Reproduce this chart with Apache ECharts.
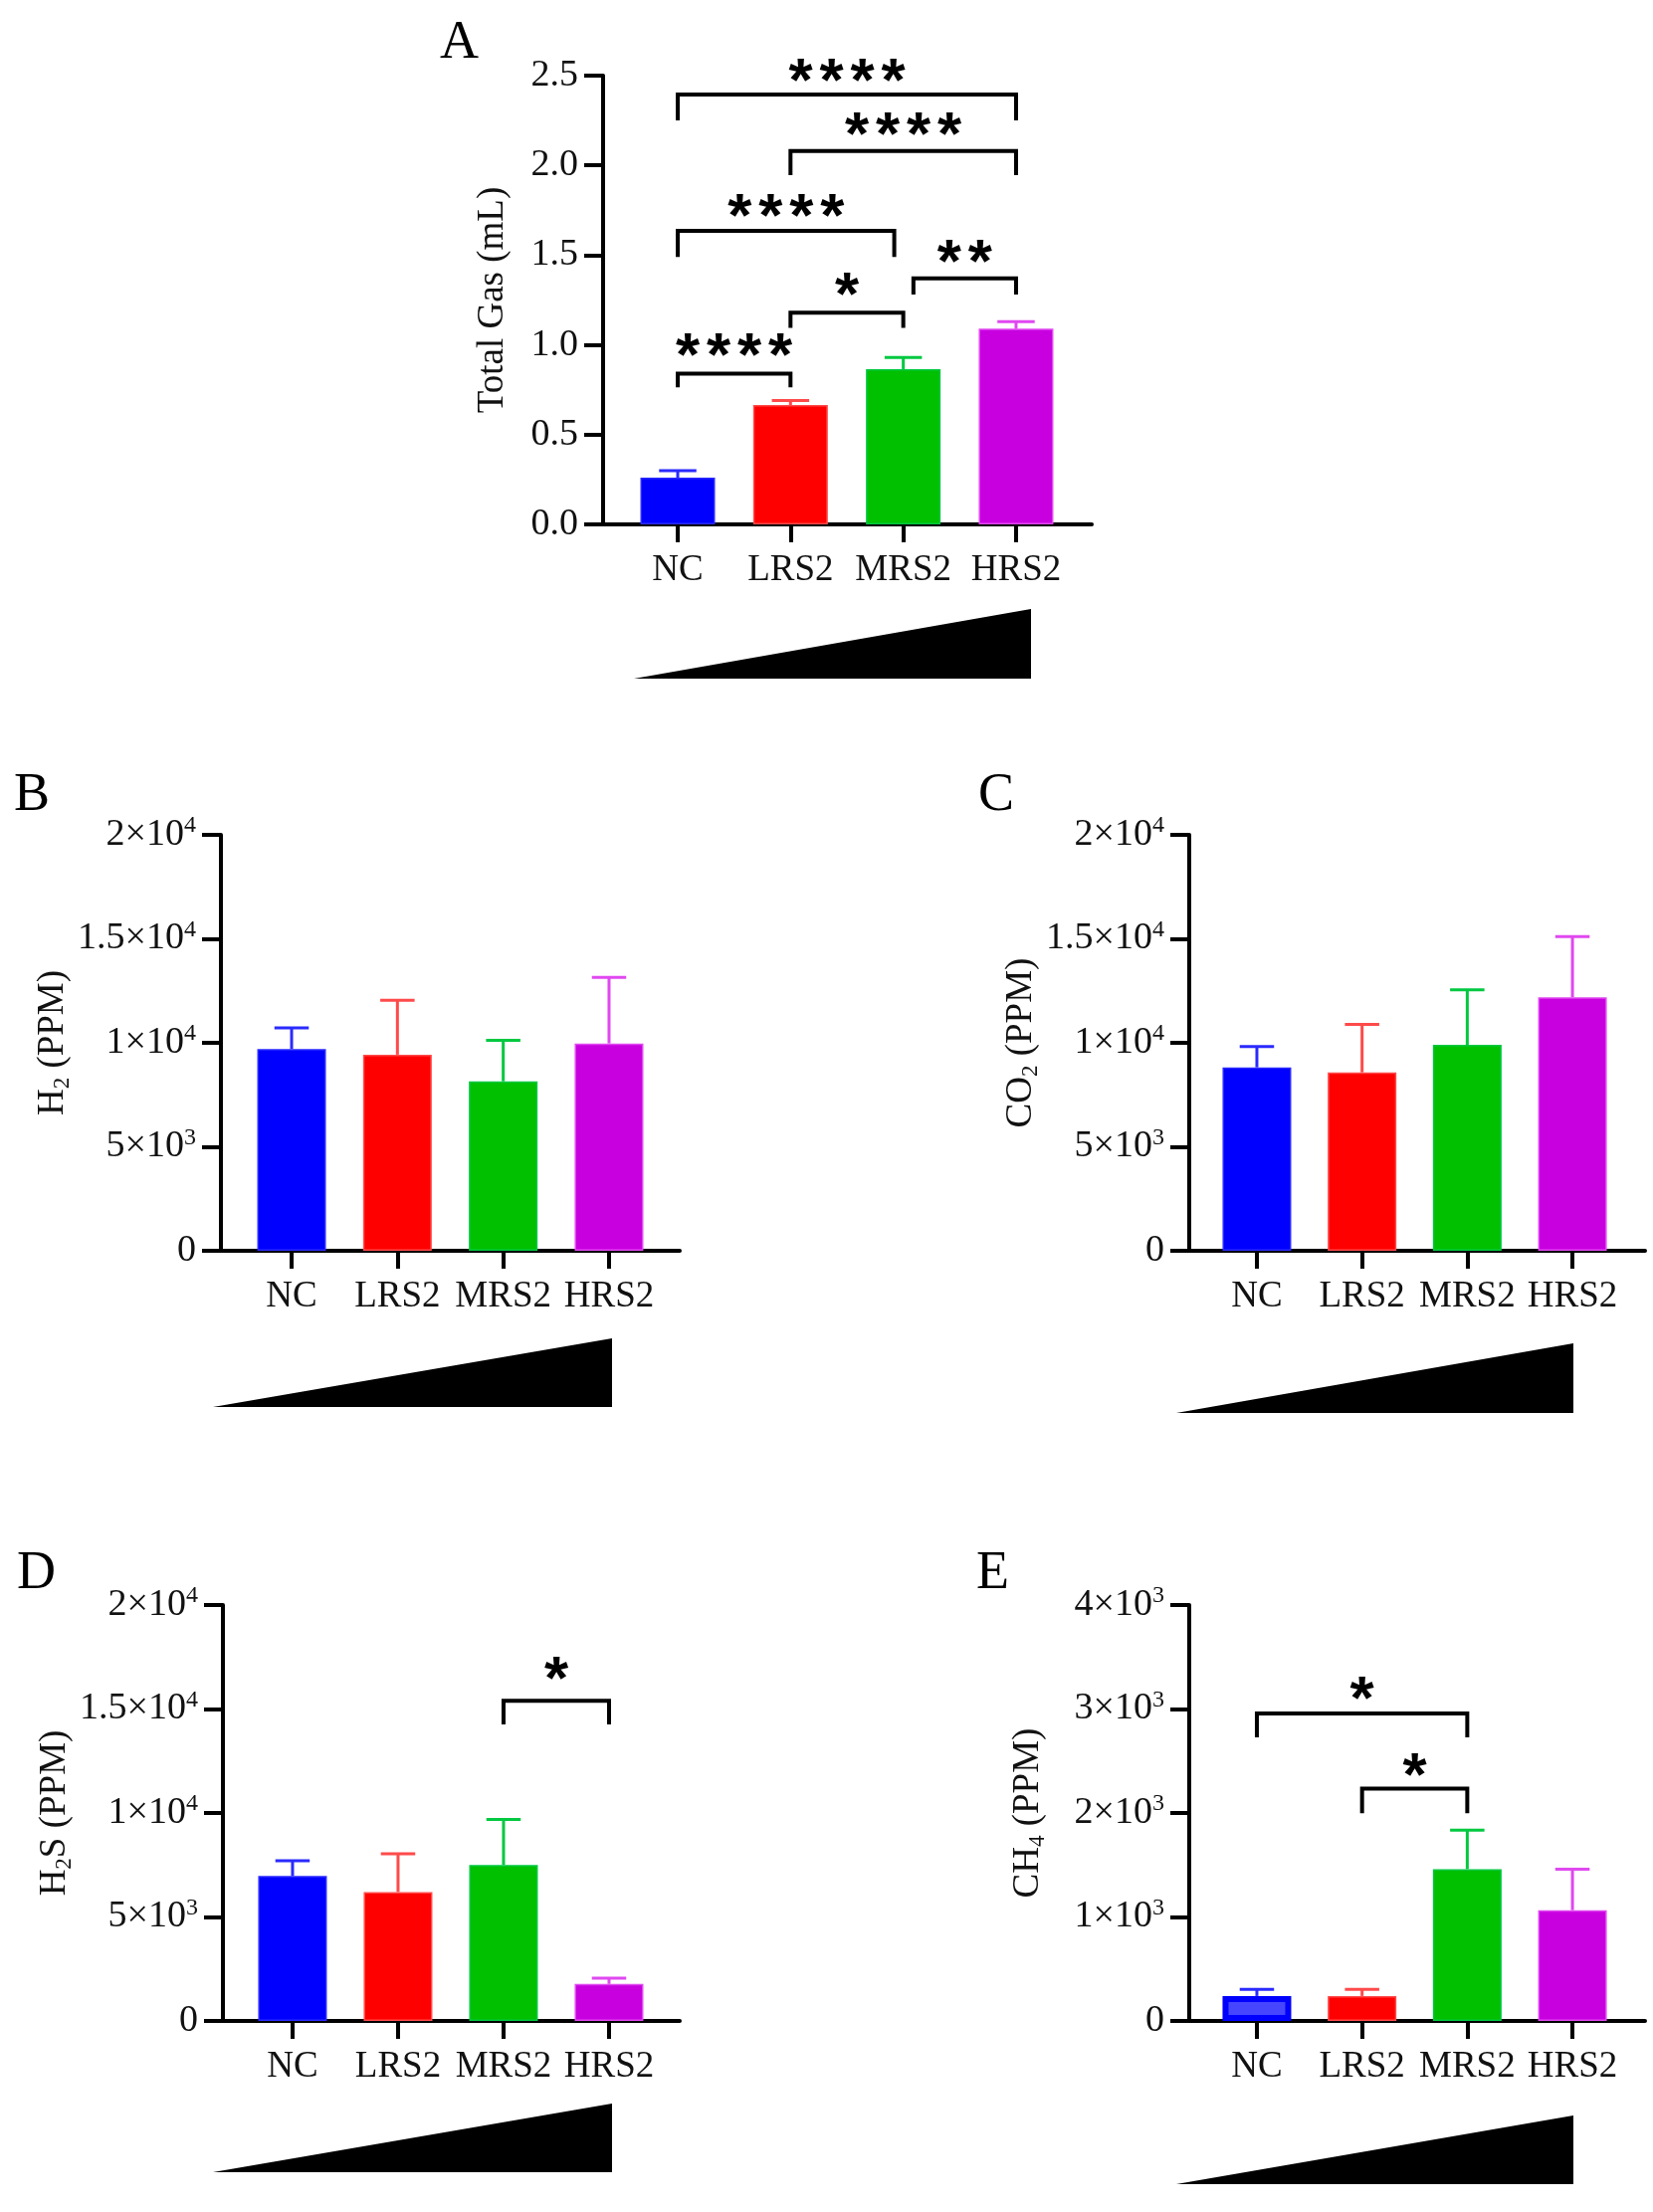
<!DOCTYPE html>
<html>
<head>
<meta charset="utf-8">
<title>Gas production</title>
<script src="https://cdn.jsdelivr.net/npm/echarts@6/dist/echarts.min.js"></script>
<style>
  html, body { margin: 0; padding: 0; background: #fff; }
  #main { width: 1661px; height: 2223px; }
</style>
</head>
<body>
<div id="main"></div>
<script>
// groups and colours
const groups = ['NC', 'LRS2', 'MRS2', 'HRS2'];
const barColors = ['#0000ff', '#ff0000', '#00c000', '#c800e0'];
const errColors = ['#2a2aff', '#ff4a4a', '#00c840', '#e048f0'];

// values: bar height (mean) and top of the error bar
const totalGasMean = [0.26, 0.665, 0.865, 1.09];
const totalGasUpper = [0.30, 0.69, 0.93, 1.13];
const h2Mean = [9700, 9430, 8150, 9970];
const h2Upper = [10720, 12040, 10120, 13150];
const co2Mean = [8820, 8580, 9900, 12190];
const co2Upper = [9820, 10890, 12550, 15110];
const h2sMean = [6970, 6200, 7500, 1780];
const h2sUpper = [7700, 8040, 9690, 2060];
const ch4Mean = [240, 240, 1460, 1065];
const ch4Upper = [305, 305, 1835, 1460];

// significance brackets: [x from, x to, bar y, left leg end, right leg end, star y, stars]
const totalGasBrackets = [
  [0, 3, 2.395, 2.25, 2.25, 2.51, 4],
  [1, 3, 2.08, 1.945, 1.945, 2.21, 4],
  [0, 1.92, 1.635, 1.49, 1.49, 1.76, 4],
  [2.09, 3, 1.37, 1.28, 1.28, 1.50, 2],
  [1, 2, 1.18, 1.095, 1.095, 1.32, 1],
  [0, 1, 0.84, 0.763, 0.763, 0.98, 4]
];
const h2Brackets = [];
const co2Brackets = [];
const h2sBrackets = [[2, 3, 15390, 14255, 14255, 16790, 1]];
const ch4Brackets = [
  [0, 2, 2958, 2727, 2727, 3164, 1],
  [1, 2, 2234, 1998, 1998, 2435, 1]
];

// tick labels [mantissa, exponent]
const gasTicks = [['0.0', ''], ['0.5', ''], ['1.0', ''], ['1.5', ''], ['2.0', ''], ['2.5', '']];
const ppm2e4Ticks = [['0', ''], ['5×10', '3'], ['1×10', '4'], ['1.5×10', '4'], ['2×10', '4']];
const ppm4e3Ticks = [['0', ''], ['1×10', '3'], ['2×10', '3'], ['3×10', '3'], ['4×10', '3']];

const serif = 'Liberation Serif, Times New Roman, serif';
const ink = '#111';

const panels = [
  { letter: 'A', letterPos: [460, 47], grid: { left: 606, top: 76, width: 491, height: 451 },
    xMin: -0.662, xMax: 3.671, barWidth: 75, yMax: 2.5, yInterval: 0.5, ticks: gasTicks,
    name: '{n|Total Gas (mL)}', nameGap: 90, mean: totalGasMean, upper: totalGasUpper,
    brackets: totalGasBrackets, wedge: [[637, 682], [1036, 612], [1036, 682]] },
  { letter: 'B', letterPos: [32, 803], grid: { left: 222, top: 839, width: 461, height: 418 },
    xMin: -0.668, xMax: 3.668, barWidth: 69, yMax: 20000, yInterval: 5000, ticks: ppm2e4Ticks,
    name: '{n|H}{s|2}{n| (PPM)}', nameGap: 136, mean: h2Mean, upper: h2Upper,
    brackets: h2Brackets, wedge: [[214, 1414], [615, 1345], [615, 1414]] },
  { letter: 'C', letterPos: [1001, 803], grid: { left: 1195, top: 839, width: 458, height: 418 },
    xMin: -0.643, xMax: 3.69, barWidth: 69, yMax: 20000, yInterval: 5000, ticks: ppm2e4Ticks,
    name: '{n|CO}{s|2}{n| (PPM)}', nameGap: 141, mean: co2Mean, upper: co2Upper,
    brackets: co2Brackets, wedge: [[1182, 1420], [1581, 1350], [1581, 1420]] },
  { letter: 'D', letterPos: [35, 1585], grid: { left: 224, top: 1613, width: 459, height: 418 },
    xMin: -0.66, xMax: 3.67, barWidth: 69, yMax: 20000, yInterval: 5000, ticks: ppm2e4Ticks,
    name: '{n|H}{s|2}{n|S (PPM)}', nameGap: 138, mean: h2sMean, upper: h2sUpper,
    brackets: h2sBrackets, wedge: [[214, 2183], [615, 2114], [615, 2183]] },
  { letter: 'E', letterPos: [999, 1585], grid: { left: 1195, top: 1613, width: 458, height: 418 },
    xMin: -0.643, xMax: 3.69, barWidth: 69, yMax: 4000, yInterval: 1000, ticks: ppm4e3Ticks,
    name: '{n|CH}{s|4}{n| (PPM)}', nameGap: 141, mean: ch4Mean, upper: ch4Upper,
    brackets: ch4Brackets, wedge: [[1182, 2195], [1581, 2126], [1581, 2195]], hollowFirst: true }
];

const chart = echarts.init(document.getElementById('main'), null, { renderer: 'canvas' });

const grids = [], xAxes = [], yAxes = [], series = [], graphics = [];

panels.forEach((p, k) => {
  grids.push(Object.assign({ containLabel: false }, p.grid));

  xAxes.push({
    type: 'value', gridIndex: k, min: p.xMin, max: p.xMax,
    axisLine: { show: true, onZero: false, lineStyle: { color: '#000', width: 4 } },
    axisTick: { show: true, customValues: [0, 1, 2, 3], length: 18, lineStyle: { color: '#000', width: 4 } },
    axisLabel: {
      show: true, customValues: [0, 1, 2, 3], margin: 28,
      formatter: v => groups[Math.round(v)],
      fontFamily: serif, fontSize: 37, color: ink
    },
    splitLine: { show: false }
  });

  yAxes.push({
    type: 'value', gridIndex: k, min: 0, max: p.yMax, interval: p.yInterval,
    name: p.name, nameLocation: 'middle', nameGap: p.nameGap,
    nameTextStyle: {
      rich: {
        n: { fontFamily: serif, fontSize: 37, color: ink, lineHeight: 42 },
        s: { fontFamily: serif, fontSize: 23, color: ink, lineHeight: 32, verticalAlign: 'bottom' }
      }
    },
    axisLine: { show: true, onZero: false, lineStyle: { color: '#000', width: 4 } },
    axisTick: { show: true, length: 19, lineStyle: { color: '#000', width: 4 } },
    axisLabel: {
      margin: 25,
      formatter: (v) => {
        const t = p.ticks[Math.round(v / p.yInterval)];
        return t[1] ? '{b|' + t[0] + '}{p|' + t[1] + '}' : '{b|' + t[0] + '}';
      },
      rich: {
        b: { fontFamily: serif, fontSize: 38, color: ink, lineHeight: 42 },
        p: { fontFamily: serif, fontSize: 24, color: ink, lineHeight: 26, verticalAlign: 'top' }
      }
    },
    splitLine: { show: false }
  });

  series.push({
    type: 'bar', xAxisIndex: k, yAxisIndex: k, barWidth: p.barWidth, z: 2,
    data: p.mean.map((v, i) => ({
      value: [i, v],
      itemStyle: (p.hollowFirst && i === 0)
        ? { color: '#4646ff', borderColor: '#0000ff', borderWidth: 6 }
        : { color: barColors[i], borderColor: errColors[i], borderWidth: 1.5 }
    }))
  });

  series.push({
    type: 'custom', xAxisIndex: k, yAxisIndex: k, z: 3,
    data: p.mean.map((v, i) => [i, v, p.upper[i]]),
    encode: { x: 0, y: [1, 2] },
    renderItem: (params, api) => {
      const x = api.value(0);
      const base = api.coord([x, api.value(1)]);
      const top = api.coord([x, api.value(2)]);
      const hw = p.barWidth * 0.25;
      const st = { stroke: errColors[params.dataIndex], lineWidth: 3 };
      return {
        type: 'group', children: [
          { type: 'line', shape: { x1: base[0], y1: base[1], x2: top[0], y2: top[1] }, style: st },
          { type: 'line', shape: { x1: top[0] - hw, y1: top[1], x2: top[0] + hw, y2: top[1] }, style: st }
        ]
      };
    }
  });

  if (p.brackets.length) {
    series.push({
      type: 'custom', xAxisIndex: k, yAxisIndex: k, z: 4,
      data: p.brackets,
      encode: { x: [0, 1], y: [2, 3, 4, 5] },
      renderItem: (params, api) => {
        const x1 = api.value(0), x2 = api.value(1);
        const a = api.coord([x1, api.value(3)]);
        const b = api.coord([x1, api.value(2)]);
        const c = api.coord([x2, api.value(2)]);
        const d = api.coord([x2, api.value(4)]);
        const sy = api.coord([x1, api.value(5)])[1];
        const n = api.value(6);
        const cx = (b[0] + c[0]) / 2;
        const pitch = 31;
        const children = [{
          type: 'polyline',
          shape: { points: [a, b, c, d] },
          style: { stroke: '#000', lineWidth: 4, fill: null, lineJoin: 'miter' }
        }];
        for (let j = 0; j < n; j++) {
          children.push({
            type: 'text',
            style: {
              text: '*', x: cx + (j - (n - 1) / 2) * pitch, y: sy + 10,
              align: 'center', verticalAlign: 'middle',
              fontFamily: 'Liberation Sans, Arial, sans-serif', fontWeight: 'bold', fontSize: 62, fill: '#000'
            }
          });
        }
        return { type: 'group', children };
      }
    });
  }

  graphics.push({
    type: 'text', left: p.letterPos[0] - 18, top: p.letterPos[1] - 30,
    style: { text: p.letter, fontFamily: serif, fontSize: 54, fill: '#000' }
  });
  graphics.push({
    type: 'polygon', shape: { points: p.wedge }, style: { fill: '#000' }
  });
});

chart.setOption({
  backgroundColor: '#fff',
  animation: false,
  grid: grids,
  xAxis: xAxes,
  yAxis: yAxes,
  series: series,
  graphic: graphics
});
</script>
</body>
</html>
